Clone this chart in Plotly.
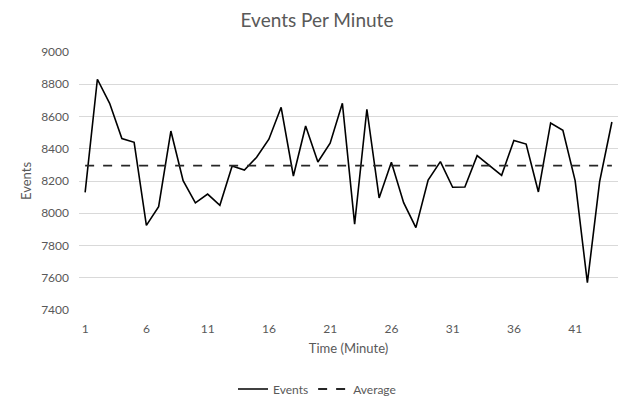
import plotly.graph_objects as go

minutes = list(range(1, 45))
events = [8130, 8831, 8682, 8463, 8440, 7925, 8041, 8510, 8202, 8064,
          8119, 8049, 8293, 8268, 8347, 8459, 8657, 8231, 8541, 8318,
          8434, 8682, 7933, 8645, 8095, 8316, 8066, 7911, 8206, 8320,
          8161, 8163, 8357, 8297, 8235, 8452, 8429, 8132, 8560, 8514,
          8202, 7569, 8196, 8566]
average_value = sum(events) / len(events)
average = [average_value] * len(minutes)
x_ticks = [1, 6, 11, 16, 21, 26, 31, 36, 41]
y_ticks = [7400, 7600, 7800, 8000, 8200, 8400, 8600, 8800, 9000]

FONT = "Lato"
GRAY = "#595959"

fig = go.Figure()
fig.add_trace(go.Scatter(x=minutes, y=events, mode="lines", name="Events",
                         line=dict(color="#000000", width=1.6)))
fig.add_trace(go.Scatter(x=minutes, y=average, mode="lines", name="Average",
                         line=dict(color="#262626", width=1.8, dash="dash")))

fig.update_layout(
    width=634, height=409,
    margin=dict(l=79, r=16, t=52, b=99),
    paper_bgcolor="white", plot_bgcolor="white",
    font=dict(family=FONT, color=GRAY, size=12),
    title=dict(text="Events Per Minute", x=0.5, xref="container", xanchor="center",
               y=1 - 20 / 409, yref="container", yanchor="middle",
               font=dict(size=19, color=GRAY, family=FONT)),
    showlegend=True,
    legend=dict(orientation="h", x=0.5, xref="container", xanchor="center",
                y=1 - 389 / 409, yref="container", yanchor="middle",
                font=dict(size=12, color=GRAY)),
    xaxis=dict(range=[0.5, 44.5], tickvals=x_ticks, showgrid=False, zeroline=False,
               showline=False, ticks="", tickfont=dict(size=12, color=GRAY),
               ticklabelstandoff=10,
               title=dict(text="Time (Minute)", font=dict(size=13, color=GRAY), standoff=8)),
    yaxis=dict(range=[7400, 9000], tickvals=y_ticks, showgrid=True, gridcolor="#d9d9d9",
               gridwidth=1, zeroline=False, showline=False, ticks="",
               tickfont=dict(size=12, color=GRAY), ticklabelstandoff=9,
               title=dict(text="Events", font=dict(size=13, color=GRAY), standoff=6)),
)

fig.write_html("out.html")
